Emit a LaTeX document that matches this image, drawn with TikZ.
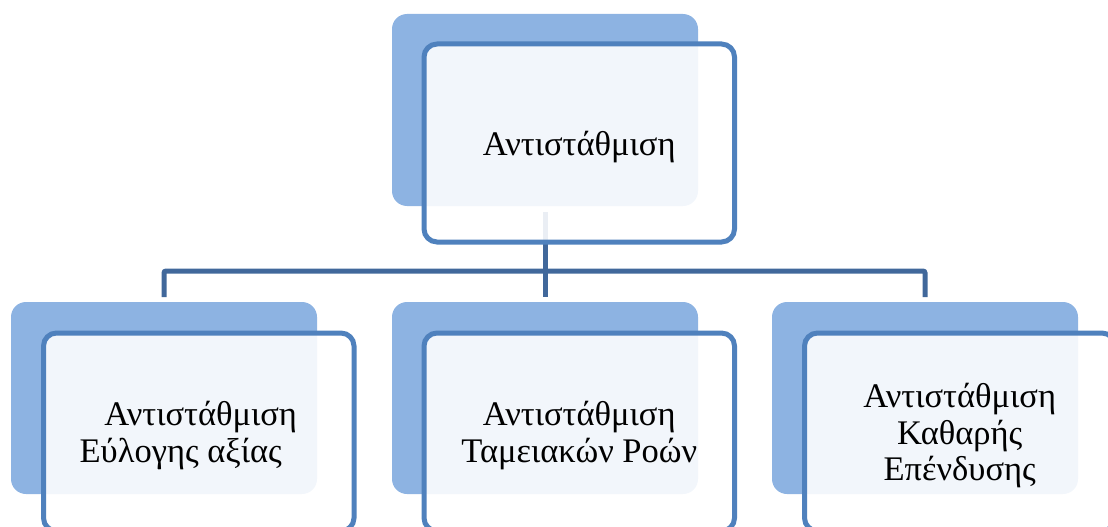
\documentclass[tikz,border=0pt]{standalone}
\usepackage{fontspec}
\setmainfont{Liberation Serif}
\definecolor{backblue}{RGB}{141,179,226}
\definecolor{frameblue}{RGB}{79,129,189}
\definecolor{linkblue}{RGB}{65,104,155}
\pgfdeclarelayer{links}
\pgfsetlayers{links,main}
\begin{document}
\begin{tikzpicture}[x=1pt,y=-1pt,
  backbox/.style={fill=backblue, rounded corners=15pt, minimum width=306pt,
    minimum height=192pt, anchor=north west, inner sep=0pt, outer sep=0pt},
  frontbox/.style={draw=frameblue, line width=5pt, fill=white, fill opacity=0.89,
    text opacity=1, rounded corners=13pt, minimum width=310.5pt, minimum height=198pt,
    anchor=north west, align=center, inner sep=0pt, outer sep=0pt, text depth=0pt,
    font=\fontsize{34.5}{36.5}\selectfont},
  link/.style={draw=linkblue, line width=5pt, rounded corners=2pt}]
\clip (0,0) rectangle (1108,527);
\useasboundingbox (0,0) rectangle (1108,527);

% root
\node[backbox] (rootback) at (392,14) {};
\node[frontbox] (root) at (424,44) {Αντιστάθμιση};

% children
\node[backbox] (leftback) at (11,302) {};
\node[frontbox] (left) at (43.5,333) {\hspace*{4pt}Αντιστάθμιση\\Εύλογης αξίας\hspace*{36pt}};
\node[backbox] (midback) at (392,302) {};
\node[frontbox] (mid) at (424,333) {Αντιστάθμιση\\Ταμειακών Ροών};
\node[backbox] (rightback) at (772,302) {};
\node[frontbox] (right) at (804.5,333) {Αντιστάθμιση\\Καθαρής\\Επένδυσης};

% tree connectors, drawn beneath the boxes
\begin{pgfonlayer}{links}
  \coordinate (bar) at (0,271);
  \draw[link] ([yshift=5pt]leftback.north) |- (bar -| rightback.north)
              -- ([yshift=5pt]rightback.north);
  \draw[link] ([yshift=-6pt]rootback.south) -- ([yshift=5pt]midback.north);
\end{pgfonlayer}
\end{tikzpicture}
\end{document}
